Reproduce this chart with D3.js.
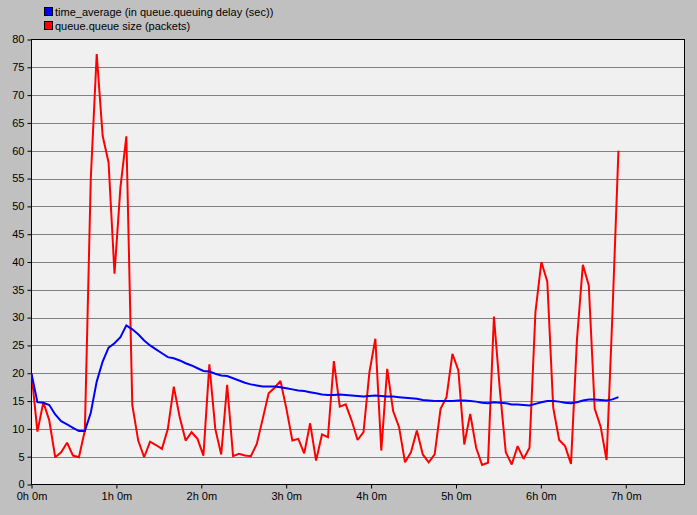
<!DOCTYPE html>
<html>
<head>
<meta charset="utf-8">
<script src="https://cdn.jsdelivr.net/npm/d3@7"></script>
<style>
  html, body { margin: 0; padding: 0; background: #c0c0c0; }
  svg { display: block; }
  text { font-family: "Liberation Sans", Arial, sans-serif; fill: #000; }
</style>
</head>
<body>
<svg id="chart" width="697" height="515"></svg>
<script>
// ---- data ----
const seriesNames = ["time_average (in queue.queuing delay (sec))", "queue.queue size (packets)"];
const seriesColors = ["#0000ff", "#ff0000"];
const sampleStepSec = 251.4; // spacing between samples
const timeAverage = [
  19.9, 14.8, 14.7, 14.3, 12.6, 11.4, 10.8, 10.2, 9.6, 9.6,
  12.9, 18.5, 22.1, 24.6, 25.4, 26.5, 28.6, 27.9, 27.0, 25.9,
  25.0, 24.3, 23.6, 22.9, 22.7, 22.3, 21.8, 21.4, 20.9, 20.4,
  20.3, 19.9, 19.6, 19.5, 19.1, 18.7, 18.3, 18.0, 17.8, 17.6,
  17.6, 17.6, 17.5, 17.3, 17.1, 16.9, 16.8, 16.6, 16.4, 16.2,
  16.1, 16.1, 16.2, 16.1, 16.0, 15.9, 15.8, 15.9, 16.0, 15.9,
  15.8, 15.8, 15.7, 15.6, 15.5, 15.4, 15.2, 15.1, 15.0, 15.0,
  15.0, 15.0, 15.1, 15.1, 15.0, 14.9, 14.7, 14.6, 14.8, 14.7,
  14.6, 14.4, 14.4, 14.3, 14.2, 14.5, 14.8, 15.0, 15.0, 14.9,
  14.7, 14.6, 14.8, 15.1, 15.3, 15.3, 15.2, 15.1, 15.3, 15.7
];
const queueSize = [
  20.0, 9.5, 14.8, 11.5, 4.9, 5.8, 7.5, 5.2, 4.9, 9.7,
  55.0, 77.4, 62.7, 57.9, 37.9, 53.4, 62.6, 14.3, 7.9, 4.9,
  7.7, 7.1, 6.4, 10.0, 17.6, 12.1, 7.9, 9.4, 8.2, 5.2,
  21.6, 10.0, 5.4, 17.9, 5.1, 5.5, 5.2, 5.1, 7.3, 11.8,
  16.4, 17.4, 18.6, 13.6, 7.9, 8.2, 5.6, 11.0, 4.3, 9.0,
  8.5, 22.2, 14.0, 14.4, 11.5, 8.0, 9.4, 20.2, 26.2, 6.1,
  20.8, 13.2, 10.3, 4.0, 5.8, 9.7, 5.4, 4.0, 5.4, 13.6,
  15.7, 23.5, 20.5, 7.2, 12.7, 6.6, 3.5, 3.9, 30.2, 17.0,
  5.8, 3.6, 6.9, 4.6, 6.6, 31.0, 40.0, 36.5, 13.8, 8.0,
  6.9, 3.7, 26.0, 39.5, 35.8, 13.6, 10.4, 4.4, 31.0, 60.0
];
const yTicks = [0, 5, 10, 15, 20, 25, 30, 35, 40, 45, 50, 55, 60, 65, 70, 75, 80];
const xTicksHours = [0, 1, 2, 3, 4, 5, 6, 7];
const xMaxSec = 27690;

(function () {
  const svg = d3.select("#chart");
  const pL = 31.5, pR = 684.5, pT = 39.5, pB = 484.5;

  const x = d3.scaleLinear().domain([0, xMaxSec]).range([pL, pR]);
  const y = d3.scaleLinear().domain([0, 80]).range([pB, pT]);

  // plot background
  svg.append("rect").attr("x", pL).attr("y", pT)
    .attr("width", pR - pL).attr("height", pB - pT)
    .attr("fill", "#f0f0f0");

  // gridlines
  svg.append("g").selectAll("line").data(yTicks.filter(d => d > 0 && d < 80)).join("line")
    .attr("x1", pL).attr("x2", pR)
    .attr("y1", d => Math.round(y(d)) + 0.5).attr("y2", d => Math.round(y(d)) + 0.5)
    .attr("stroke", "#808080").attr("stroke-width", 1);

  // axes
  const yAxis = d3.axisLeft(y).tickValues(yTicks).tickSize(4).tickPadding(3).tickFormat(d3.format("d"));
  const gy = svg.append("g").attr("transform", `translate(${pL},0)`).call(yAxis);
  const xAxis = d3.axisBottom(x).tickValues(xTicksHours.map(h => h * 3600)).tickSize(4).tickPadding(4)
    .tickFormat(d => `${Math.floor(d / 3600)}h ${Math.round((d % 3600) / 60)}m`);
  const gx = svg.append("g").attr("transform", `translate(0,${pB})`).call(xAxis);
  [gx, gy].forEach(g => {
    g.select(".domain").remove();
    g.selectAll(".tick line").attr("stroke", "#000");
    g.selectAll(".tick text").attr("font-size", 11).attr("font-family", "Liberation Sans, Arial, sans-serif").attr("fill", "#000");
  });
  gy.selectAll(".tick text").attr("dy", "0.3em");

  // frame
  svg.append("rect").attr("x", pL).attr("y", pT)
    .attr("width", pR - pL).attr("height", pB - pT)
    .attr("fill", "none").attr("stroke", "#000").attr("stroke-width", 1);

  // lines
  svg.append("defs").append("clipPath").attr("id", "plotclip")
    .append("rect").attr("x", pL).attr("y", pT).attr("width", pR - pL).attr("height", pB - pT);

  const line = d3.line().x((d, i) => x(i * sampleStepSec)).y(d => y(d));
  const plotG = svg.append("g").attr("clip-path", "url(#plotclip)");
  [queueSize, timeAverage].forEach(vals => {
    const k = vals === timeAverage ? 0 : 1;
    plotG.append("path").datum(vals)
      .attr("d", line).attr("fill", "none")
      .attr("stroke", seriesColors[k]).attr("stroke-width", 2)
      .attr("stroke-linejoin", "miter").attr("stroke-miterlimit", 2);
  });

  // legend
  const lg = svg.append("g");
  seriesNames.forEach((name, k) => {
    const yy = 7.5 + k * 14;
    lg.append("rect").attr("x", 44.5).attr("y", yy).attr("width", 8).attr("height", 8)
      .attr("fill", seriesColors[k]).attr("stroke", "#000").attr("stroke-width", 1);
    lg.append("text").attr("x", 55).attr("y", yy + 8).attr("font-size", 11).text(name);
  });
})();
</script>
</body>
</html>
